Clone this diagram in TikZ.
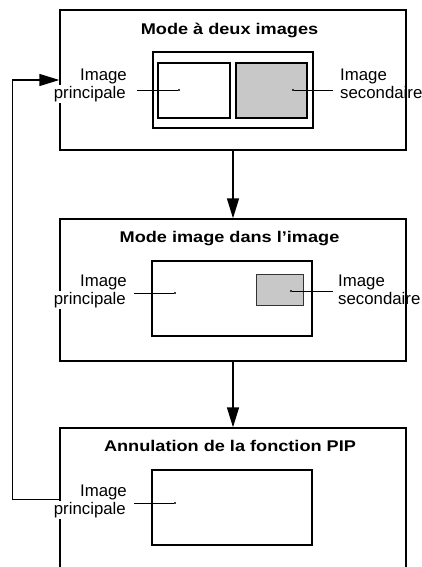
\documentclass[tikz,border=0pt]{standalone}
\usepackage{fontspec}
\setmainfont{Liberation Sans}
\newfontfamily\titlefont{Liberation Sans}[FakeStretch=1.17]
\usetikzlibrary{arrows.meta}
\definecolor{pipgray}{RGB}{200,200,200}
\setlength{\fboxsep}{1pt}
\newcommand{\hidebg}[1]{\colorbox{white}{#1}}
\tikzset{
  modebox/.style={draw,line width=1.4pt,minimum width=346pt,inner sep=0pt},
  modetitle/.style={anchor=base,inner sep=0pt,font=\titlefont\bfseries\fontsize{15.5}{18}\selectfont},
  screenbox/.style={draw,line width=1.3pt,minimum width=160pt,minimum height=75pt,inner sep=0pt},
  subbox/.style={draw,line width=1.8pt,minimum height=55pt,inner sep=0pt},
  piplabel/.style={inner ysep=0pt,font=\fontsize{16.8}{17.6}\selectfont},
  pipdot/.style={circle,fill,inner sep=0pt,minimum size=2.4pt},
  leader/.style={line width=0.6pt},
  flowarrow/.style={line width=1.4pt,-{Triangle[length=20pt,width=12pt]}}
}
\begin{document}
\begin{tikzpicture}[x=1pt,y=-1pt]
\useasboundingbox (0,0) rectangle (422,567);
\clip (0,0) rectangle (422,567);
% the three modes
\node[modebox,minimum height=140pt] (f1) at (233,80) {};
\node[modebox,minimum height=142pt] (f2) at (233,290) {};
\node[modebox,minimum height=162pt] (f3) at (233,509) {};
\node[modetitle] (t1) at ([xshift=-3.5pt,yshift=-25pt]f1.north) {Mode à deux images};
\node[modetitle] (t2) at ([xshift=-3.5pt,yshift=-24pt]f2.north) {Mode image dans l’image};
\node[modetitle] (t3) at ([xshift=-3pt,yshift=-24pt]f3.north) {Annulation de la fonction PIP};
% mode a deux images
\node[screenbox,minimum height=76pt] (s1) at (233,90) {};
\node[subbox,minimum width=72pt] (a1) at (194,90.5) {};
\node[subbox,minimum width=71pt,fill=pipgray] (b1) at (271.5,90.5) {};
\node[pipdot] (da1) at (179,90) {};
\node[pipdot] (db1) at (293,90) {};
\node[piplabel,inner xsep=10pt,anchor=base east,align=right] (la1) at (137,98.3) {Image\\\hidebg{principale}};
\node[piplabel,inner xsep=7pt,anchor=base west,align=left] (lb1) at (333,98.3) {Image\\secondaire};
\draw[leader] (da1) -- (da1 -| la1.east);
\draw[leader] (db1) -- (db1 -| lb1.west);
% mode image dans l'image
\node[screenbox] (s2) at (232,298.5) {};
\node[draw=black!80,line width=1pt,fill=pipgray,minimum width=47pt,minimum height=31pt,inner sep=0pt] (b2) at (279.5,289.5) {};
\node[pipdot] (da2) at (175,293) {};
\node[pipdot] (db2) at (291,291) {};
\node[piplabel,inner xsep=7pt,anchor=base east,align=right] (la2) at (134,304.3) {Image\\\hidebg{principale}};
\node[piplabel,inner xsep=5pt,anchor=base west,align=left] (lb2) at (333,304.3) {Image\\secondaire};
\draw[leader] (da2) -- (da2 -| la2.east);
\draw[leader] (db2) -- (db2 -| lb2.west);
% annulation
\node[screenbox] (s3) at (232,507.5) {};
\node[pipdot] (da3) at (175,503) {};
\node[piplabel,inner xsep=7pt,anchor=base east,align=right] (la3) at (134,514.3) {Image\\\hidebg{principale}};
\draw[leader] (da3) -- (da3 -| la3.east);
% sequence
\draw[flowarrow] (f1.south) -- (f2.north);
\draw[flowarrow] (f2.south) -- (f3.north);
\draw[flowarrow] ([yshift=-72pt]f3.north west) -- ++(-47,0) |- (f1.west);
\end{tikzpicture}
\end{document}
